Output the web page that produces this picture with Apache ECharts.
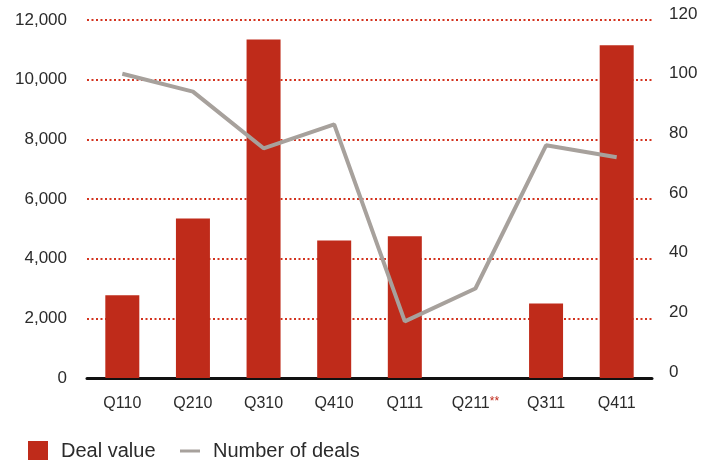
<!DOCTYPE html>
<html>
<head>
<meta charset="utf-8">
<script src="https://cdn.jsdelivr.net/npm/echarts@6/dist/echarts.min.js"></script>
<style>
  html, body { margin: 0; padding: 0; background: #fff; }
  #main { width: 715px; height: 460px; }
</style>
</head>
<body>
<div id="main"></div>
<script>
// data
var quarters = ['Q110', 'Q210', 'Q310', 'Q410', 'Q111', 'Q211**', 'Q311', 'Q411'];
var dealValue = [2770, 5350, 11350, 4610, 4750, null, 2500, 11150];
var dealCount = [102, 96, 77, 85, 19, 30, 78, 74];

var chartDom = document.getElementById('main');
var myChart = echarts.init(chartDom);
var option;

var fontFam = '"Liberation Sans", Arial, Helvetica, sans-serif';

option = {
    animation: false,
    textStyle: { fontFamily: fontFam },
    grid: { left: 87, right: 63, top: 20, bottom: 82 },
    legend: {
        left: 28,
        top: 441,
        padding: 0,
        itemGap: 23,
        itemWidth: 20,
        itemHeight: 20,
        textStyle: { fontSize: 20, color: '#2b2b2b', fontFamily: fontFam, padding: [0, 0, 0, 8] },
        data: [
            { name: 'Deal value', icon: 'rect', itemStyle: { color: '#bf2b1a' } },
            {
                name: 'Number of deals',
                itemStyle: { color: 'rgba(0,0,0,0)', borderColor: 'rgba(0,0,0,0)', borderWidth: 0 },
                lineStyle: { color: '#a7a19c', width: 3 }
            }
        ]
    },
    xAxis: {
        type: 'category',
        data: quarters,
        axisTick: { show: false },
        axisLine: { lineStyle: { color: '#111', width: 3 } },
        axisLabel: {
            interval: 0,
            margin: 18,
            fontSize: 16,
            color: '#2b2b2b',
            formatter: function (v) {
                // red asterisks on the footnoted quarter
                if (v.indexOf('**') > -1) {
                    return '{a|' + v.replace('**', '') + '}{b|**}';
                }
                return '{a|' + v + '}';
            },
            rich: {
                a: { fontSize: 16, lineHeight: 16, color: '#2b2b2b', fontFamily: fontFam },
                b: { fontSize: 12, lineHeight: 10, color: '#c0291a', fontFamily: fontFam, verticalAlign: 'top' }
            }
        }
    },
    yAxis: [
        {
            type: 'value',
            min: 0,
            max: 12000,
            interval: 2000,
            axisLine: { show: false },
            axisTick: { show: false },
            axisLabel: { fontSize: 17, color: '#2b2b2b', margin: 20 },
            splitLine: {
                lineStyle: { color: '#d3331f', width: 2, type: [2, 2.5] }
            }
        },
        {
            type: 'value',
            min: 0,
            max: 120,
            interval: 20,
            axisLine: { show: false },
            axisTick: { show: false },
            splitLine: { show: false },
            axisLabel: { fontSize: 17, color: '#2b2b2b', margin: 17, verticalAlign: 'bottom', lineHeight: 12 }
        }
    ],
    series: [
        {
            name: 'Deal value',
            type: 'bar',
            data: dealValue,
            barWidth: 34,
            itemStyle: { color: '#bf2b1a' }
        },
        {
            name: 'Number of deals',
            type: 'line',
            yAxisIndex: 1,
            data: dealCount,
            symbol: 'none',
            lineStyle: { color: '#a7a19c', width: 4 },
            itemStyle: { color: '#a7a19c' },
            z: 3
        }
    ]
};

option && myChart.setOption(option);
</script>
</body>
</html>
